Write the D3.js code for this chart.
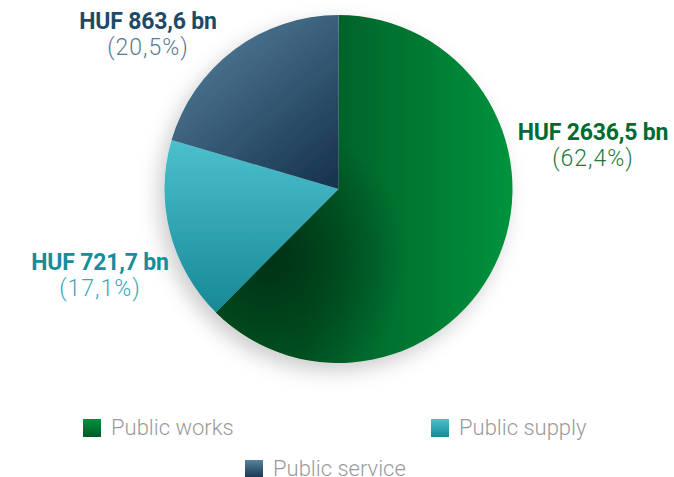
<!DOCTYPE html>
<html>
<head>
<meta charset="utf-8">
<script src="https://d3js.org/d3.v7.min.js"></script>
<style>
  body { margin: 0; background: #fff; }
  svg { display: block; font-family: Roboto, "Noto Sans", sans-serif; }
</style>
</head>
<body>
<script>
  // data
  let categories = ["Public works", "Public supply", "Public service"];
  let values = [2636.5, 721.7, 863.6];
  let labels = ["HUF 2636,5 bn", "HUF 721,7 bn", "HUF 863,6 bn"];
  let shares = ["(62,4%)", "(17,1%)", "(20,5%)"];

  let width = 674, height = 477;
  let cx = 338.5, cy = 189, r = 174;

  let svg = d3.select("body").append("svg")
      .attr("width", width)
      .attr("height", height);

  let defs = svg.append("defs");

  let f = defs.append("filter").attr("id", "shadow")
      .attr("x", "-30%").attr("y", "-30%").attr("width", "160%").attr("height", "160%");
  f.append("feDropShadow")
      .attr("dx", -6).attr("dy", 8).attr("stdDeviation", 10)
      .attr("flood-color", "#000").attr("flood-opacity", 0.2);

  // gradients per slice
  let grads = [
    {id: "g0", x1: 0.3, y1: 0.5, x2: 1, y2: 0.5, stops: ["#005a27", "#00933c"]},
    {id: "g1", x1: 0.5, y1: 0, x2: 0.5, y2: 1, stops: ["#4cc0ce", "#178896"]},
    {id: "g2", x1: 0.1, y1: 0, x2: 0.9, y2: 1, stops: ["#56829d", "#18344f"]}
  ];
  grads.forEach(g => {
    let lg = defs.append("linearGradient").attr("id", g.id)
        .attr("x1", g.x1).attr("y1", g.y1).attr("x2", g.x2).attr("y2", g.y2);
    lg.append("stop").attr("offset", 0).attr("stop-color", g.stops[0]);
    lg.append("stop").attr("offset", 1).attr("stop-color", g.stops[1]);
  });

  // dark shading near the centre of the big slice
  let rg = defs.append("radialGradient").attr("id", "shade")
      .attr("gradientUnits", "userSpaceOnUse")
      .attr("cx", -70).attr("cy", 70).attr("r", 140);
  rg.append("stop").attr("offset", 0).attr("stop-color", "#002a10").attr("stop-opacity", 0.85);
  rg.append("stop").attr("offset", 1).attr("stop-color", "#002a10").attr("stop-opacity", 0);

  let pie = d3.pie().sort(null).value(d => d);
  let arcs = pie(values);
  let arc = d3.arc().innerRadius(0).outerRadius(r);

  let g = svg.append("g").attr("transform", `translate(${cx},${cy})`);

  g.append("g").attr("filter", "url(#shadow)")
    .selectAll("path")
    .data(arcs)
    .join("path")
      .attr("d", arc)
      .attr("fill", (d, i) => `url(#g${i})`);

  // shade overlay on public works only
  g.append("path")
      .attr("d", arc(arcs[0]))
      .attr("fill", "url(#shade)");

  // labels
  let titleColor = ["#006b30", "#178c9b", "#1f4a67"];
  let shareColor = ["#1a7a3e", "#3aa9b9", "#5b7b90"];
  let labelPos = [[593, 140], [100, 270], [148, 29]];

  labels.forEach((t, i) => {
    svg.append("text")
        .attr("x", labelPos[i][0]).attr("y", labelPos[i][1])
        .attr("text-anchor", "middle")
        .attr("font-size", 23).attr("font-weight", 700)
        .attr("letter-spacing", -0.2)
        .attr("fill", titleColor[i])
        .text(t);
    svg.append("text")
        .attr("x", labelPos[i][0]).attr("y", labelPos[i][1] + 26)
        .attr("text-anchor", "middle")
        .attr("font-size", 23).attr("font-weight", 300)
        .attr("letter-spacing", 1)
        .attr("fill", shareColor[i])
        .text(shares[i]);
  });

  // legend
  let legendPos = [[83, 419], [431, 419], [245, 460]];
  let lgr = [
    ["#00933c", "#005a26"],
    ["#4cc0ce", "#178896"],
    ["#56829d", "#18344f"]
  ];
  lgr.forEach((c, i) => {
    let lg = defs.append("linearGradient").attr("id", "l" + i)
        .attr("x1", 0).attr("y1", 0).attr("x2", 0).attr("y2", 1);
    lg.append("stop").attr("offset", 0).attr("stop-color", c[0]);
    lg.append("stop").attr("offset", 1).attr("stop-color", c[1]);
  });

  let leg = svg.append("g").selectAll("g")
      .data(categories)
      .join("g")
      .attr("transform", (d, i) => `translate(${legendPos[i][0]},${legendPos[i][1]})`);

  leg.append("rect")
      .attr("width", 18).attr("height", 18)
      .attr("fill", (d, i) => `url(#l${i})`);
  leg.append("text")
      .attr("x", 28).attr("y", 16)
      .attr("font-size", 22).attr("font-weight", 300)
      .attr("fill", "#9a9a9e")
      .text(d => d);
</script>
</body>
</html>
